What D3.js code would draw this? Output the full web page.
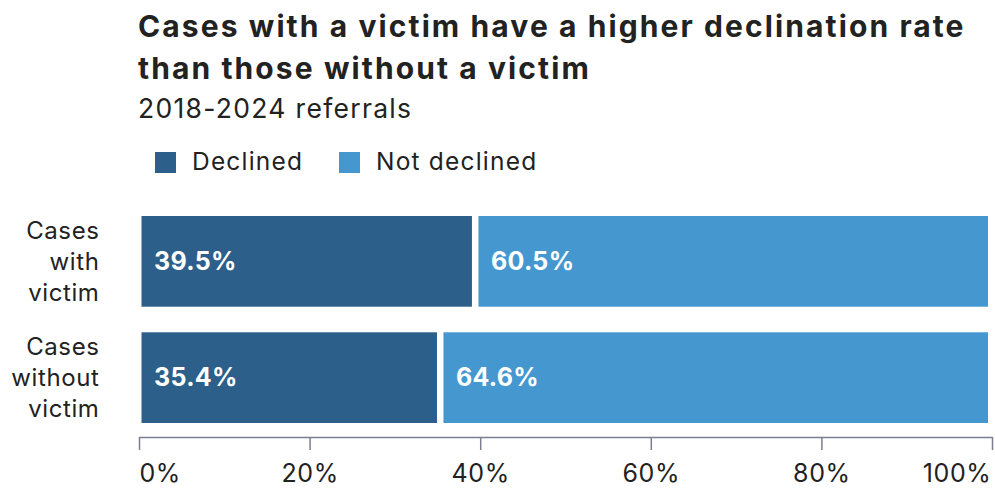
<!DOCTYPE html>
<html>
<head>
<meta charset="utf-8">
<script src="https://cdn.jsdelivr.net/npm/d3@7"></script>
<style>
  html, body { margin: 0; padding: 0; background: #fff; }
  svg { display: block; font-family: Inter, "Noto Sans", sans-serif; }
</style>
</head>
<body>
<svg id="chart" width="995" height="490"></svg>
<script>
// Referral outcomes, share of cases (%)
const categories = [["Cases", "with", "victim"], ["Cases", "without", "victim"]];
const categoryKeys = ["with", "without"];
const declined = [39.5, 35.4];
const notDeclined = [60.5, 64.6];
const seriesNames = ["Declined", "Not declined"];
const tickValues = [0, 20, 40, 60, 80, 100];

const colors = { "Declined": "#2c5f8a", "Not declined": "#4597cf" };
const textColor = "#222222";

const svg = d3.select("#chart");

// Title and subtitle
const titleLines = ["Cases with a victim have a higher declination rate", "than those without a victim"];
titleLines.forEach((line, i) => {
  svg.append("text").attr("x", 138).attr("y", 37 + i * 42)
    .attr("font-size", 30).attr("font-weight", 700).attr("letter-spacing", 2.1)
    .attr("fill", textColor).text(line);
});
svg.append("text").attr("x", 138).attr("y", 118)
  .attr("font-size", 26.5).attr("letter-spacing", 1.3).attr("fill", textColor)
  .text("2018-2024 referrals");

// Legend
const legendX = [155, 339];
seriesNames.forEach((name, i) => {
  const g = svg.append("g").attr("transform", `translate(${legendX[i]},152)`);
  g.append("rect").attr("width", 21).attr("height", 21).attr("fill", colors[name]);
  g.append("text").attr("x", 37).attr("y", 18)
    .attr("font-size", 24.5).attr("letter-spacing", 1.2).attr("fill", textColor).text(name);
});

// Scales
const x = d3.scaleLinear().domain([0, 100]).range([139, 992]);
const y = d3.scaleBand().domain(categoryKeys).range([216, 423]).paddingInner(0.22).paddingOuter(0);

// Stacked rows
const rows = categoryKeys.map((k, i) => ({ key: k, label: categories[i], values: [declined[i], notDeclined[i]] }));
const segments = [];
rows.forEach(r => {
  let start = 0;
  r.values.forEach((v, j) => {
    segments.push({ key: r.key, series: seriesNames[j], x0: start, x1: start + v, value: v });
    start += v;
  });
});

svg.append("g").selectAll("rect").data(segments).join("rect")
  .attr("x", d => x(d.x0) + 2.5)
  .attr("y", d => y(d.key))
  .attr("width", d => x(d.x1) - x(d.x0) - 6.5)
  .attr("height", y.bandwidth())
  .attr("fill", d => colors[d.series]);

svg.append("g").selectAll("text").data(segments).join("text")
  .attr("x", d => x(d.x0) + 15)
  .attr("y", d => y(d.key) + y.bandwidth() / 2)
  .attr("dy", "0.35em")
  .attr("font-size", 25).attr("font-weight", 700).attr("letter-spacing", 0.3).attr("fill", "#fff")
  .text(d => d.value.toFixed(1) + "%");

// Category labels, three lines each, right aligned
const catG = svg.append("g");
rows.forEach(r => {
  const cy = y(r.key) + y.bandwidth() / 2;
  const lh = 31;
  r.label.forEach((line, li) => {
    catG.append("text")
      .attr("x", 99.5).attr("y", cy + (li - 1) * lh)
      .attr("dy", "0.35em").attr("text-anchor", "end")
      .attr("font-size", 24).attr("letter-spacing", 0.6).attr("fill", textColor).text(line);
  });
});

// Axis
const axis = svg.append("g").attr("transform", "translate(0,437)")
  .call(d3.axisBottom(x).tickValues(tickValues).tickFormat(d => d + "%").tickSize(13).tickSizeOuter(0).tickPadding(14));
axis.select(".domain").attr("stroke", "#7a7f8f").attr("stroke-width", 1.5);
axis.selectAll(".tick line").attr("stroke", "#7a7f8f").attr("stroke-width", 1.5);
axis.selectAll(".tick text").attr("font-size", 25).attr("letter-spacing", 0.6).attr("fill", textColor)
  .attr("font-family", "Inter, 'Noto Sans', sans-serif")
  .attr("text-anchor", (d, i, n) => i === 0 ? "start" : (i === n.length - 1 ? "end" : "middle"))
  .attr("dx", (d, i, n) => i === n.length - 1 ? -1 : 0);
</script>
</body>
</html>
